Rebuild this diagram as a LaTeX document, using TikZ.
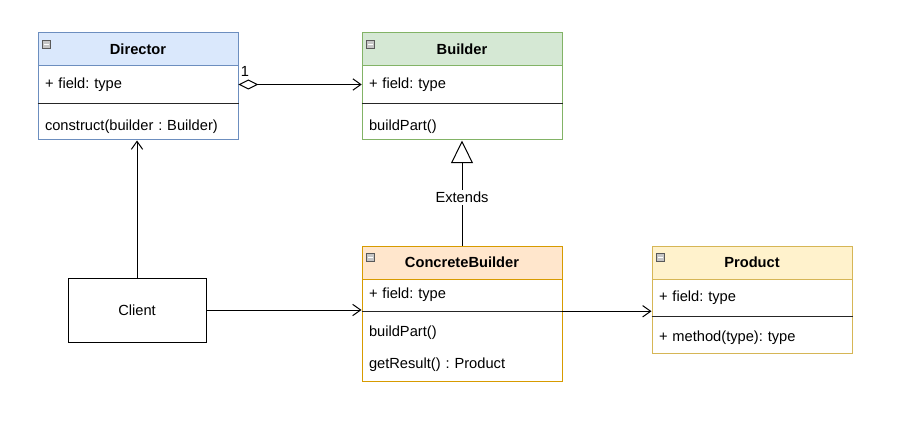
\documentclass[tikz,border=0pt]{standalone}
\usepackage{fontspec}
\setmainfont{Liberation Sans}
\frenchspacing
\usetikzlibrary{arrows.meta, positioning}
\definecolor{dirfill}{HTML}{DAE8FC}
\definecolor{dirline}{HTML}{6C8EBF}
\definecolor{bldfill}{HTML}{D5E8D4}
\definecolor{bldline}{HTML}{82B366}
\definecolor{cbfill}{HTML}{FFE6CC}
\definecolor{cbline}{HTML}{D79B00}
\definecolor{prfill}{HTML}{FFF2CC}
\definecolor{prline}{HTML}{D6B656}
\tikzset{
  >={Straight Barb[length=6pt,width=8.5pt]},
  cls head/.style={draw, line width=0.75pt, minimum width=150pt, minimum height=24.75pt, inner sep=0pt, font=\fontsize{11}{13}\selectfont\bfseries},
  cls body/.style={draw, line width=0.75pt, fill=white, minimum width=150pt, inner sep=0pt},
  cls row/.style={text width=139.5pt, inner xsep=5.25pt, inner ysep=0pt, align=left},
  sep/.style={line width=0.7pt, black!85},
  icon/.style={draw=gray!70!black, fill=gray!45, minimum size=6pt, inner sep=0pt,
    path picture={\draw[white, line width=0.8pt] ([xshift=1.3pt]path picture bounding box.west) -- ([xshift=-1.3pt]path picture bounding box.east);}},
  client/.style={draw, line width=0.75pt, minimum width=103.5pt, minimum height=48pt},
  link/.style={->, line width=0.75pt},
  ext/.style={-{Triangle[open,length=17pt,width=16.5pt]}, line width=0.75pt},
  lbl/.style={fill=white, inner sep=1.5pt}
}

\begin{document}
\begin{tikzpicture}[x=0.75pt,y=-0.75pt,font=\fontsize{11}{13}\selectfont]
  \useasboundingbox (0,0) rectangle (914,424);

  % --- Director ---
  \node[cls body, draw=dirline, minimum height=55.5pt] (dir-body) at (138,103) {};
  \node[cls head, fill=dirfill, draw=dirline] (dir-head) at (138,49.5) {Director};
  \node[icon] (dir-i) at (46.5,44.5) {};
  \node[cls row, minimum height=27.75pt] (dir-f) at (138,84.5) {+ field: type};
  \node[cls row] (dir-m) at (138,127) {construct(builder : Builder)};
  \draw[sep] (dir-body.west) -- (dir-body.east);

  % --- Builder ---
  \node[cls body, draw=bldline, minimum height=55.5pt] (bld-body) at (462,103) {};
  \node[cls head, fill=bldfill, draw=bldline] (bld-head) at (462,49.5) {Builder};
  \node[icon] (bld-i) at (370.5,44.5) {};
  \node[cls row, minimum height=27.75pt] (bld-f) at (462,84.5) {+ field: type};
  \node[cls row] (bld-m) at (462,127) {buildPart()};
  \draw[sep] (bld-body.west) -- (bld-body.east);

  % --- ConcreteBuilder ---
  \node[cls body, draw=cbline, minimum height=76.5pt] (cb-body) at (462,330) {};
  \node[cls head, fill=cbfill, draw=cbline] (cb-head) at (462,262.5) {ConcreteBuilder};
  \node[icon] (cb-i) at (370.5,257.5) {};
  \node[cls row, minimum height=24pt] (cb-f) at (462,295) {+ field: type};
  \node[cls row] (cb-m1) at (462,333) {buildPart()};
  \node[cls row] (cb-m2) at (462,365) {getResult() : Product};
  \draw[sep] (cb-f.south west) -- (cb-f.south east);

  % --- Product ---
  \node[cls body, draw=prline, minimum height=55.5pt] (pr-body) at (752,316) {};
  \node[cls head, fill=prfill, draw=prline] (pr-head) at (752,262.5) {Product};
  \node[icon] (pr-i) at (660.5,257.5) {};
  \node[cls row, minimum height=27.75pt] (pr-f) at (752,297.5) {+ field: type};
  \node[cls row] (pr-m) at (752,338) {+ method(type): type};
  \draw[sep] (pr-body.west) -- (pr-body.east);

  % --- Client ---
  \node[client] (cli) at (137,310) {Client};

  % --- connectors ---
  \draw[link, {Diamond[open,length=15pt,width=7.5pt]}->] (dir-f.east) -- (bld-f.west)
    node[pos=0, anchor=south west, inner sep=1.5pt, yshift=4pt] (one) {1};
  \draw[link] (cli.north) -- (cli.north |- dir-body.south);
  \draw[link] (cli.east) -- (cli.east -| cb-body.west);
  \draw[link] (cb-f.south east) -- (cb-f.south east -| pr-body.west);
  \draw[ext] (cb-head.north) -- node[lbl, pos=0.46] (ext-l) {Extends} (bld-body.south);

\end{tikzpicture}
\end{document}
